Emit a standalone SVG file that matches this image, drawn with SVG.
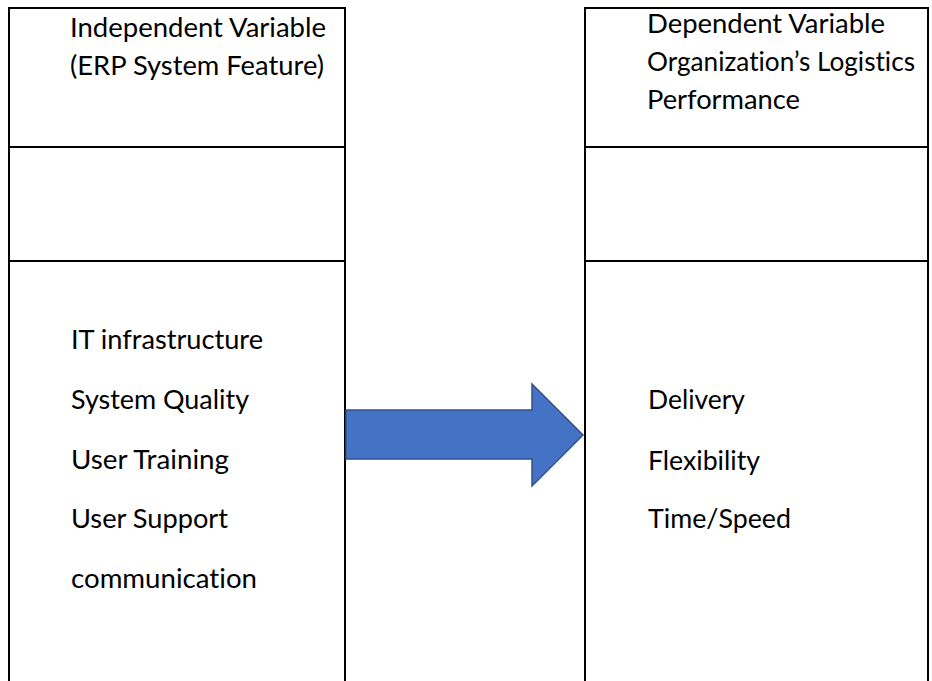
<svg xmlns="http://www.w3.org/2000/svg" width="932" height="681" viewBox="0 0 932 681">
  <style>
    .rule { stroke: #000; stroke-width: 2; fill: none; }
    .label { font-family: Lato, "Liberation Sans", sans-serif; font-size: 26.5px; fill: #000; font-variant-ligatures: none; }
    .flow { fill: #4472C4; stroke: #2F528F; stroke-width: 1.5; stroke-linejoin: miter; }
  </style>
  <rect width="932" height="681" fill="#fff"/>

  <!-- Independent variable column -->
  <g id="independent-variable">
    <path class="rule" d="M9,681 V8 H345 V681 M9,147 H345 M9,261 H345"/>
    <text class="label" x="70" y="37" textLength="256" lengthAdjust="spacingAndGlyphs">Independent Variable</text>
    <text class="label" x="70" y="75" textLength="254" lengthAdjust="spacingAndGlyphs">(ERP System Feature)</text>
    <text class="label" x="71" y="349" textLength="192" lengthAdjust="spacingAndGlyphs">IT infrastructure</text>
    <text class="label" x="71" y="409" textLength="178" lengthAdjust="spacingAndGlyphs">System Quality</text>
    <text class="label" x="71" y="469" textLength="158" lengthAdjust="spacingAndGlyphs">User Training</text>
    <text class="label" x="71" y="528" textLength="157" lengthAdjust="spacingAndGlyphs">User Support</text>
    <text class="label" x="71" y="588" textLength="186" lengthAdjust="spacingAndGlyphs">communication</text>
  </g>

  <!-- Dependent variable column -->
  <g id="dependent-variable">
    <path class="rule" d="M585,681 V8 H928 V681 M585,147 H928 M585,261 H928"/>
    <text class="label" x="647" y="33" textLength="238" lengthAdjust="spacingAndGlyphs">Dependent Variable</text>
    <text class="label" x="647" y="71" textLength="268" lengthAdjust="spacingAndGlyphs">Organization’s Logistics</text>
    <text class="label" x="647" y="109" textLength="153" lengthAdjust="spacingAndGlyphs">Performance</text>
    <text class="label" x="648" y="409" textLength="97" lengthAdjust="spacingAndGlyphs">Delivery</text>
    <text class="label" x="648" y="470" textLength="112" lengthAdjust="spacingAndGlyphs">Flexibility</text>
    <text class="label" x="648" y="528" textLength="143" lengthAdjust="spacingAndGlyphs">Time/Speed</text>
  </g>

  <!-- Block arrow linking the two columns -->
  <g id="connectors">
    <path class="flow" d="M346,410 H532 V384 L583,435 L532,486 V459 H346 Z"/>
  </g>
</svg>
